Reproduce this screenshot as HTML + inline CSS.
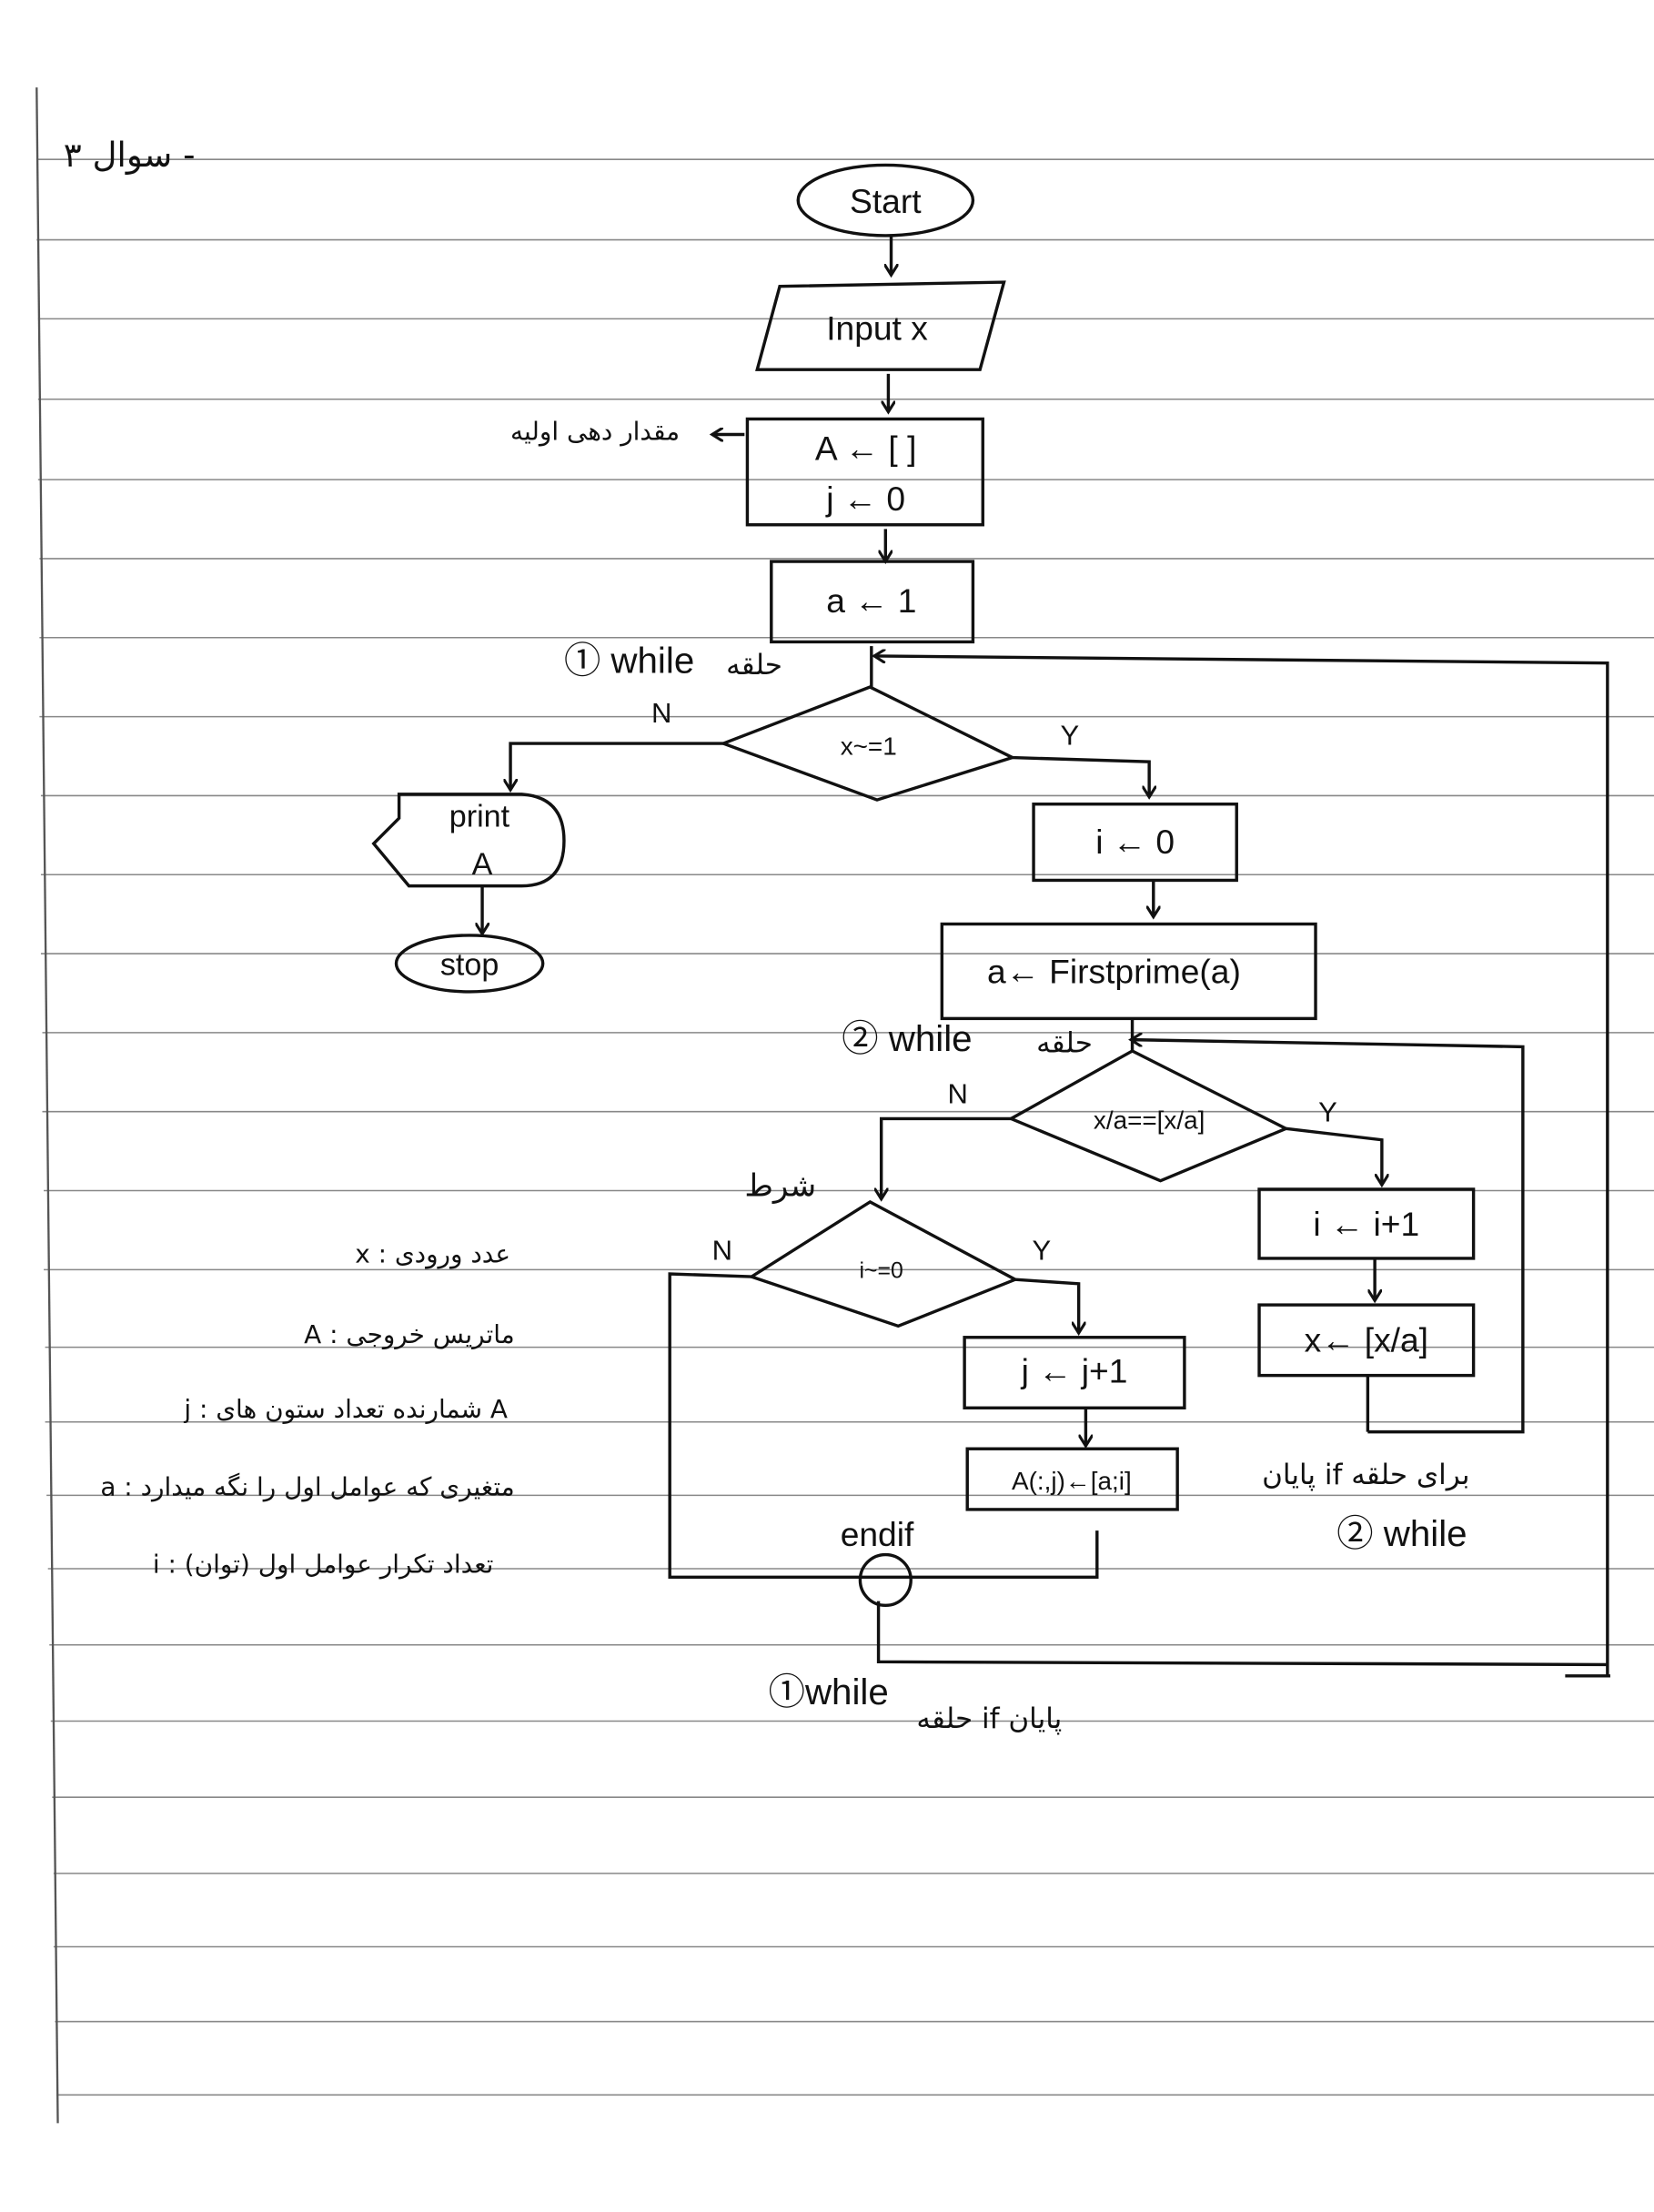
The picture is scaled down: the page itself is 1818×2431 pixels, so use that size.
<!DOCTYPE html>
<html><head><meta charset="utf-8">
<style>
html,body{margin:0;padding:0;background:#fff;}
svg{display:block;}
text{font-family:"Liberation Sans","Noto Sans CJK SC",sans-serif;fill:#111;}
.fa{font-family:"DejaVu Sans","Liberation Sans",sans-serif;}
</style></head>
<body>
<svg width="1818" height="2431" viewBox="0 0 1173 1568" preserveAspectRatio="none" xmlns="http://www.w3.org/2000/svg">
<defs>
<marker id="ar" markerWidth="10" markerHeight="10" refX="8" refY="5" orient="auto" markerUnits="userSpaceOnUse">
<path d="M0,0 L8,5 L0,10" fill="none" stroke="#111" stroke-width="2"/>
</marker>
</defs>
<rect width="1173" height="1568" fill="#ffffff"/>
<g stroke="#888" stroke-width="1">
<line x1="26" y1="113" x2="1173" y2="113"/>
<line x1="26" y1="170" x2="1173" y2="170"/>
<line x1="27" y1="226" x2="1173" y2="226"/>
<line x1="27" y1="283" x2="1173" y2="283"/>
<line x1="27" y1="340" x2="1173" y2="340"/>
<line x1="28" y1="396" x2="1173" y2="396"/>
<line x1="28" y1="452" x2="1173" y2="452"/>
<line x1="28" y1="508" x2="1173" y2="508"/>
<line x1="29" y1="564" x2="1173" y2="564"/>
<line x1="29" y1="620" x2="1173" y2="620"/>
<line x1="29" y1="676" x2="1173" y2="676"/>
<line x1="30" y1="732" x2="1173" y2="732"/>
<line x1="30" y1="788" x2="1173" y2="788"/>
<line x1="31" y1="844" x2="1173" y2="844"/>
<line x1="31" y1="900" x2="1173" y2="900"/>
<line x1="32" y1="955" x2="1173" y2="955"/>
<line x1="32" y1="1008" x2="1173" y2="1008"/>
<line x1="33" y1="1060" x2="1173" y2="1060"/>
<line x1="34" y1="1112" x2="1173" y2="1112"/>
<line x1="35" y1="1166" x2="1173" y2="1166"/>
<line x1="36" y1="1220" x2="1173" y2="1220"/>
<line x1="37" y1="1274" x2="1173" y2="1274"/>
<line x1="38" y1="1328" x2="1173" y2="1328"/>
<line x1="38" y1="1380" x2="1173" y2="1380"/>
<line x1="39" y1="1433" x2="1173" y2="1433"/>
<line x1="40" y1="1485" x2="1173" y2="1485"/>
</g>
<line x1="26" y1="62" x2="41" y2="1505" stroke="#555" stroke-width="1.5"/>
<g fill="none" stroke="#111" stroke-width="2.2">
<ellipse cx="628" cy="142" rx="62" ry="25"/>
<line x1="632" y1="168" x2="632" y2="195" marker-end="url(#ar)"/>
<polygon points="553,203 712,200 695,262 537,262"/>
<line x1="630" y1="265" x2="630" y2="292" marker-end="url(#ar)"/>
<rect x="530" y="297" width="167" height="75"/>
<line x1="528" y1="308" x2="505" y2="308" marker-end="url(#ar)"/>
<line x1="628" y1="375" x2="628" y2="398" marker-end="url(#ar)"/>
<rect x="547" y="398" width="143" height="57"/>
<polyline points="1140,1188 1140,470 620,465" marker-end="url(#ar)"/>
<line x1="618" y1="458" x2="618" y2="487"/>
<polygon points="617,487 718,537 622,567 513,527"/>
<polyline points="513,527 362,527 362,560" marker-end="url(#ar)"/>
<path d="M283,563 L370,563 Q400,565 400,596 Q400,628 370,628 L290,628 L265,598 L283,580 Z"/>
<line x1="342" y1="628" x2="342" y2="662" marker-end="url(#ar)"/>
<ellipse cx="333" cy="683" rx="52" ry="20"/>
<polyline points="718,537 815,540 815,565" marker-end="url(#ar)"/>
<rect x="733" y="570" width="144" height="54"/>
<line x1="818" y1="624" x2="818" y2="650" marker-end="url(#ar)"/>
<rect x="668" y="655" width="265" height="67"/>
<polyline points="970,1015 1080,1015 1080,742 802,737" marker-end="url(#ar)"/>
<line x1="803" y1="722" x2="803" y2="745"/>
<polygon points="803,745 912,800 823,837 717,793"/>
<polyline points="717,793 625,793 625,850" marker-end="url(#ar)"/>
<polygon points="617,852 720,907 637,940 533,905"/>
<polyline points="720,907 765,910 765,945" marker-end="url(#ar)"/>
<rect x="684" y="948" width="156" height="50"/>
<line x1="770" y1="998" x2="770" y2="1025" marker-end="url(#ar)"/>
<rect x="686" y="1027" width="149" height="43"/>
<polyline points="533,905 475,903 475,1118 778,1118 778,1085"/>
<circle cx="628" cy="1120" r="18"/>
<polyline points="623,1135 623,1178 1140,1180"/>
<polyline points="912,800 980,808 980,840" marker-end="url(#ar)"/>
<rect x="893" y="843" width="152" height="49"/>
<line x1="975" y1="892" x2="975" y2="922" marker-end="url(#ar)"/>
<rect x="893" y="925" width="152" height="50"/>
<line x1="970" y1="975" x2="970" y2="1015"/>
<line x1="1110" y1="1188" x2="1142" y2="1188"/>
</g>
<g font-size="24">
<text x="628" y="151" text-anchor="middle">Start</text>
<text x="622" y="241" text-anchor="middle">Input x</text>
<text x="614" y="326" text-anchor="middle">A ← [ ]</text>
<text x="614" y="362" text-anchor="middle">j ← 0</text>
<text x="618" y="434" text-anchor="middle">a ← 1</text>
<text x="616" y="535" text-anchor="middle" font-size="18">x~=1</text>
<text x="340" y="586" text-anchor="middle" font-size="22">print</text>
<text x="342" y="620" text-anchor="middle" font-size="22">A</text>
<text x="333" y="691" text-anchor="middle" font-size="22">stop</text>
<text x="805" y="605" text-anchor="middle">i ← 0</text>
<text x="790" y="697" text-anchor="middle">a← Firstprime(a)</text>
<text x="815" y="800" text-anchor="middle" font-size="18">x/a==[x/a]</text>
<text x="625" y="906" text-anchor="middle" font-size="16">i~=0</text>
<text x="762" y="980" text-anchor="middle">j ← j+1</text>
<text x="760" y="1056" text-anchor="middle" font-size="18">A(:,j)←[a;i]</text>
<text x="969" y="876" text-anchor="middle">i ← i+1</text>
<text x="969" y="958" text-anchor="middle">x← [x/a]</text>
<text x="622" y="1096" text-anchor="middle">endif</text>
<text x="462" y="512" font-size="20">N</text>
<text x="752" y="528" font-size="20">Y</text>
<text x="672" y="782" font-size="20">N</text>
<text x="935" y="795" font-size="20">Y</text>
<text x="505" y="893" font-size="20">N</text>
<text x="732" y="893" font-size="20">Y</text>
<text x="400" y="477" font-size="26">① while</text>
<text class="fa" x="515" y="478" font-size="20">حلقه</text>
<text x="597" y="745" font-size="26">② while</text>
<text class="fa" x="735" y="746" font-size="20">حلقه</text>
<text class="fa" x="362" y="312" font-size="18">مقدار دهی اولیه</text>
<text class="fa" x="528" y="848" font-size="22">شرط</text>
<text class="fa" x="895" y="1052" font-size="20">پایان if برای حلقه</text>
<text x="948" y="1096" font-size="26">② while</text>
<text x="545" y="1208" font-size="26">①while</text>
<text class="fa" x="650" y="1225" font-size="20">حلقه if پایان</text>
<text class="fa" x="45" y="118" font-size="24">سوال ۳ -</text>
<g font-size="18" text-anchor="end">
<text class="fa" x="362" y="895">x :  عدد ورودی</text>
<text class="fa" x="365" y="952">A :  ماتریس خروجی</text>
<text class="fa" x="360" y="1005">j :  شمارنده تعداد ستون های A</text>
<text class="fa" x="365" y="1060">a :  متغیری که عوامل اول را نگه میدارد</text>
<text class="fa" x="350" y="1115">i :  تعداد تکرار عوامل اول (توان)</text>
</g>
</g>
</svg>
</body></html>
